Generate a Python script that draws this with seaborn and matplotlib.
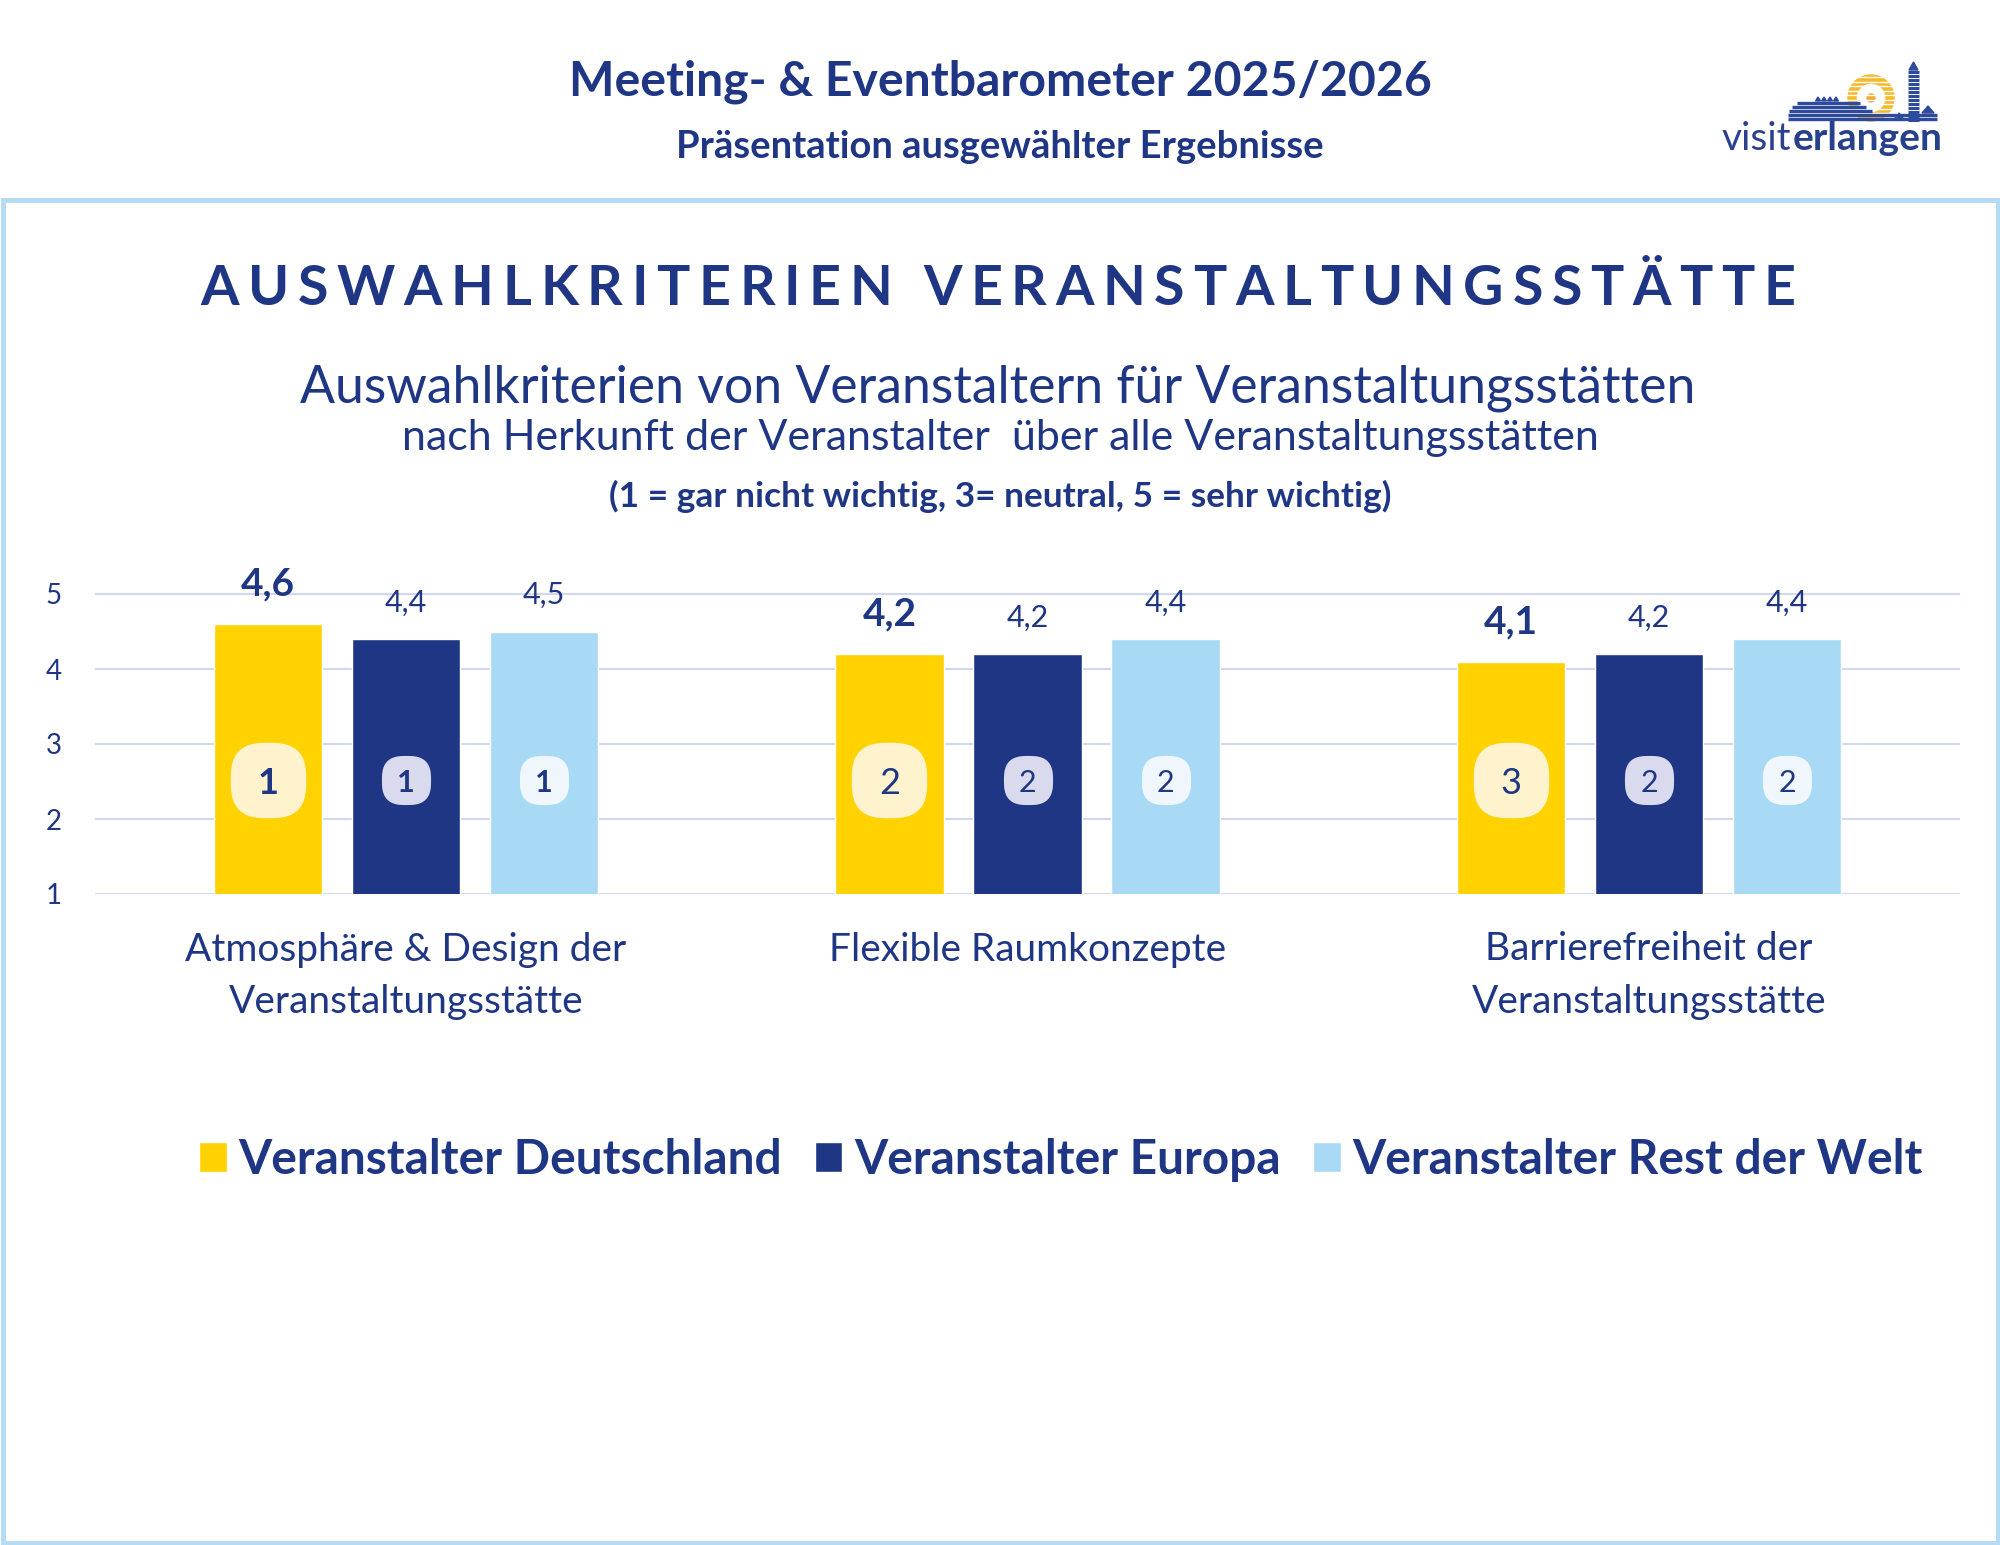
import numpy as np
import pandas as pd
import matplotlib.pyplot as plt
import seaborn as sns
from matplotlib.path import Path
from matplotlib.patches import Rectangle, Wedge, Circle, Polygon

categories = ["Atmosphäre & Design der\nVeranstaltungsstätte",
              "Flexible Raumkonzepte",
              "Barrierefreiheit der\nVeranstaltungsstätte"]
herkunft = ["Veranstalter Deutschland", "Veranstalter Europa", "Veranstalter Rest der Welt"]
werte_deutschland = [4.6, 4.2, 4.1]
werte_europa = [4.4, 4.2, 4.2]
werte_rest_welt = [4.5, 4.4, 4.4]
rang_deutschland = [1, 2, 3]
rang_europa = [1, 2, 2]
rang_rest_welt = [1, 2, 2]
y_ticks = [1, 2, 3, 4, 5]

navy = "#1F3685"
colors = ["#FFD200", "#1F3685", "#A8DAF5"]
badge_colors = ["#FEF3CD", "#D9DAEE", "#EFF7FD"]

values = [werte_deutschland, werte_europa, werte_rest_welt]
ranks = [rang_deutschland, rang_europa, rang_rest_welt]
df = pd.DataFrame({
    "kriterium": categories * 3,
    "herkunft": np.repeat(herkunft, 3),
    "wert": werte_deutschland + werte_europa + werte_rest_welt,
})

sns.set_theme(style="white")
plt.rcParams["font.family"] = ["Lato", "DejaVu Sans"]

fig = plt.figure(figsize=(20, 15.45), dpi=100)
bg = fig.add_axes([0, 0, 1, 1], zorder=0)
bg.set_xlim(0, 2000)
bg.set_ylim(1545, 0)
bg.axis("off")
renderer = fig.canvas.get_renderer()

ax = fig.add_axes([95 / 2000, 1 - 894 / 1545, 1865 / 2000, 337.5 / 1545], zorder=1)
ax.patch.set_alpha(0)

# frame
bg.add_patch(Rectangle((2.5, 199.5), 1995, 1343, fill=False, ec="#B5DBF5", lw=3.6))


def text_width(s, **kw):
    t = bg.text(0, 0, s, **kw)
    w = t.get_window_extent(renderer).width
    t.remove()
    return w


def fit_text(x, y, s, width, **kw):
    w = text_width(s, fontsize=20, **kw)
    return bg.text(x, y, s, fontsize=20 * width / w, ha="center", va="baseline",
                   color=navy, **kw)


def spaced_text(x, y, s, width, **kw):
    ref = text_width("I", **kw)
    pos = [0] + [text_width(s[:i] + "I", **kw) - ref for i in range(1, len(s))]
    track = (width - text_width(s, **kw)) / (len(s) - 1)
    x0 = x - width / 2
    for i, ch in enumerate(s):
        bg.text(x0 + pos[i] + track * i, y, ch, ha="left", va="baseline", color=navy, **kw)


# header
fit_text(1000, 95, "Meeting- & Eventbarometer 2025/2026", 861, fontweight="bold")
fit_text(1000, 158, "Präsentation ausgewählter Ergebnisse", 646, fontweight="bold")

spaced_text(998, 305, "AUSWAHLKRITERIEN VERANSTALTUNGSSTÄTTE", 1595,
            fontsize=40, fontweight="bold")
fit_text(998, 402, "Auswahlkriterien von Veranstaltern für Veranstaltungsstätten", 1403)
fit_text(1000, 450, "nach Herkunft der Veranstalter  über alle Veranstaltungsstätten", 1205)
fit_text(1000, 507, "(1 = gar nicht wichtig, 3= neutral, 5 = sehr wichtig)", 780,
         fontweight="bold")

# logo
t1 = bg.text(1722, 150, "visit", fontsize=28, fontweight="normal", color="#2B4190")
w1 = t1.get_window_extent(renderer).width
bg.text(1722 + w1 + 1, 150, "erlangen", fontsize=28, fontweight="bold", color="#27408B")
bg.add_patch(Wedge((1871, 98), 23, 0, 360, width=8, color="#F6B92B"))
bg.add_patch(Circle((1871, 98), 4, color="#F2A93B"))
for yy in np.arange(77, 122, 4.5):
    bg.plot([1845, 1897], [yy, yy], color="white", lw=1.0)
for yy, xa, xb in [(103, 1797, 1860), (107, 1792, 1866), (111, 1789, 1872),
                   (115, 1788, 1937), (119, 1788, 1937)]:
    bg.plot([xa, xb], [yy, yy], color="#2E4A9B", lw=2.4, solid_capstyle="butt")
for yy in np.arange(72, 121, 4):
    bg.plot([1908, 1919], [yy, yy], color="#2E4A9B", lw=2.2, solid_capstyle="butt")
bg.add_patch(Polygon([[1909, 70], [1918, 70], [1913.5, 62]], color="#2E4A9B"))
for xx in [1818, 1824, 1830, 1836]:
    bg.add_patch(Polygon([[xx - 2.5, 101], [xx + 2.5, 101], [xx, 97]], color="#2E4A9B"))
bg.add_patch(Polygon([[1922, 113], [1934, 113], [1928, 106]], color="#2E4A9B"))
bg.add_patch(Polygon([[1895, 118], [1903, 118], [1899, 113]], color="#2E4A9B"))

# bars
sns.barplot(data=df, x="kriterium", y="wert", hue="herkunft", palette=colors,
            saturation=1, width=0.666, gap=0.216, ax=ax, zorder=2)
handles, labels = ax.get_legend_handles_labels()
ax.get_legend().remove()

ax.set_xlim(-0.5, 2.5)
ax.set_ylim(1, 5.5)
ax.set_yticks(y_ticks)
ax.set_xlabel("")
ax.set_ylabel("")
ax.yaxis.grid(True, color="#D0D7EE", lw=1.5)
ax.set_axisbelow(True)
sns.despine(ax=ax, left=True, bottom=True)
ax.tick_params(axis="y", length=0, pad=24, labelsize=20, labelcolor=navy)
ax.tick_params(axis="x", length=0, pad=27, labelsize=28, labelcolor=navy)
for lab in ax.get_xticklabels():
    lab.set_linespacing(1.56)

for i, cont in enumerate(ax.containers):
    labs = [f"{v:.1f}".replace(".", ",") for v in values[i]]
    if i == 0:
        ax.bar_label(cont, labels=labs, padding=16, fontsize=28, fontweight="bold", color=navy)
    else:
        ax.bar_label(cont, labels=labs, padding=16, fontsize=22, color=navy)

# rank badges
t = np.linspace(0, 2 * np.pi, 160, endpoint=False)
bx = np.sign(np.cos(t)) * np.abs(np.cos(t)) ** (2 / 2.8)
by = np.sign(np.sin(t)) * np.abs(np.sin(t)) ** (2 / 2.8)
badge = Path(np.column_stack([np.append(bx, bx[0]), np.append(by, by[0])]), closed=True)

for i, cont in enumerate(ax.containers):
    xs = [b.get_x() + b.get_width() / 2 for b in cont]
    ax.scatter(xs, [2.52] * len(xs), s=2950 if i == 0 else 1250, marker=badge,
               color=badge_colors[i], linewidths=0, zorder=3)
    for j, (x, r) in enumerate(zip(xs, ranks[i])):
        ax.text(x, 2.52, str(r), ha="center", va="center_baseline",
                fontsize=26 if i == 0 else 22, fontweight="bold" if j == 0 else "normal",
                color=navy, zorder=4)

fig.legend(handles, labels, loc="center", bbox_to_anchor=(1061 / 2000, 1 - 1160 / 1545),
           ncol=3, frameon=False, prop=dict(family="Lato", weight="bold", size=34.5),
           labelcolor=navy, handlelength=0.58, handleheight=0.58, handletextpad=0.24,
           columnspacing=0.68, borderaxespad=0)

fig.savefig("out.png", dpi=100)
